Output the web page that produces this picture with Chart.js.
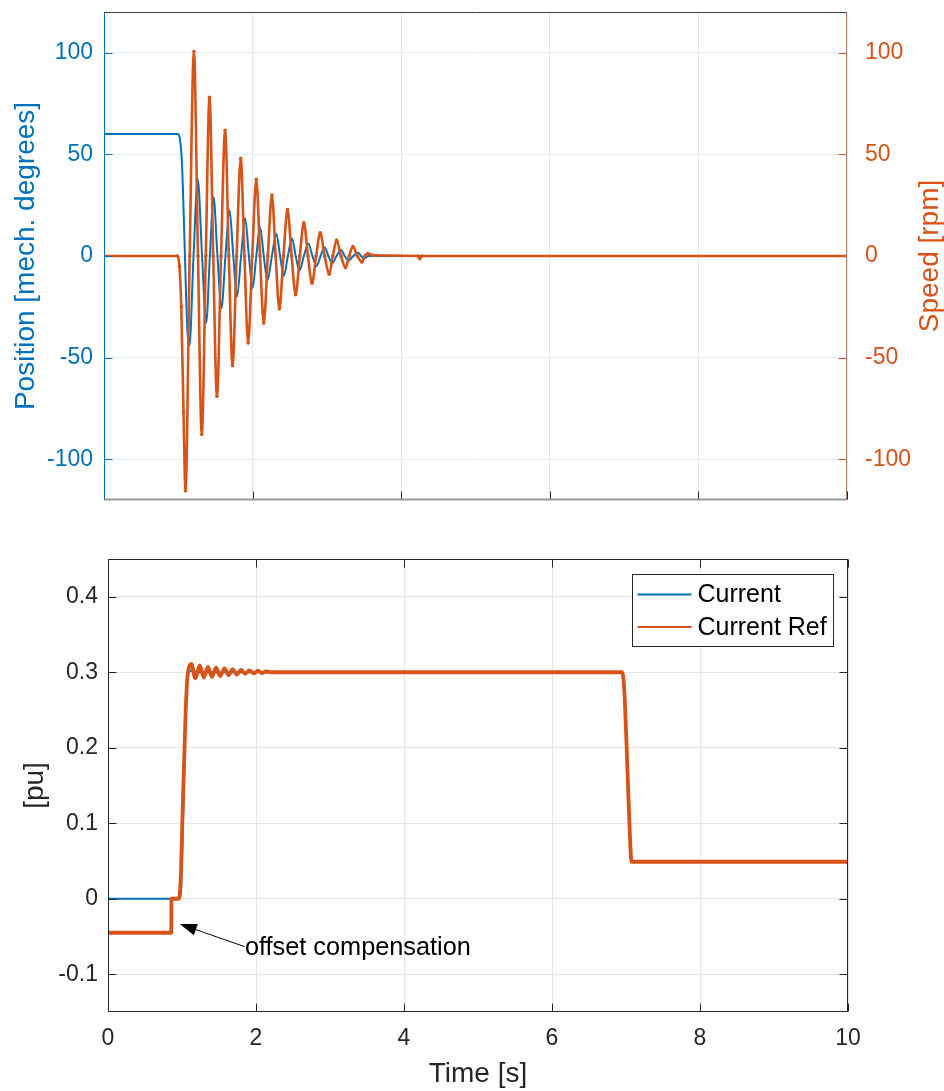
<!DOCTYPE html>
<html>
<head>
<meta charset="utf-8">
<script src="https://cdn.jsdelivr.net/npm/chart.js@4.4.1/dist/chart.umd.min.js"></script>
<style>
  body { margin: 0; background: #fff; }
  #wrap { position: relative; width: 944px; height: 1091px; }
  canvas { position: absolute; left: 0; }
</style>
</head>
<body>
<div id="wrap">
  <canvas id="motion-chart" width="944" height="530" style="top:0px"></canvas>
  <canvas id="current-chart" width="944" height="561" style="top:530px"></canvas>
</div>
<script>
// ---- data ----
var xTicks = [0, 2, 4, 6, 8, 10];
var degTicks = [-100, -50, 0, 50, 100];
var rpmTicks = [-100, -50, 0, 50, 100];
var puTicks = [-0.1, 0, 0.1, 0.2, 0.3, 0.4];

// position [mech. degrees] (left axis)
var posTime = [0, 0.99, 1.02, 1.05, 1.083, 1.12, 1.15,
    1.205, 1.262, 1.32, 1.375, 1.425, 1.474, 1.527, 1.58, 1.635, 1.69, 1.74,
    1.79, 1.845, 1.90, 1.95, 2.00, 2.05, 2.10, 2.15, 2.20, 2.26, 2.32,
    2.37, 2.42, 2.475, 2.53, 2.58, 2.63, 2.69, 2.75, 2.805, 2.86, 2.915,
    2.97, 3.02, 3.07, 3.13, 3.19, 3.24, 3.29, 3.355, 3.42, 3.46, 3.5,
    3.56, 10];
var posDeg = [60, 60, 58, 45, 8, -35, -44,
    0, 37.7, 0, -33, 0, 29, 0, -25.7, 0, 22.5, 0,
    -20, 0, 18.6, 0, -15.7, 0, 14.2, 0, -12, 0, 11,
    0, -9.8, 0, 8.7, 0, -7.2, 0, 6.2, 0, -4.9, 0,
    4.3, 0, -3.6, 0, 2.9, 0, -2.3, 0, 1.6, 0, -1.1,
    0, 0];

// speed [rpm] (right axis)
var speedTime = [0, 0.99, 1.015, 1.04, 1.07, 1.097,
    1.153, 1.21, 1.265, 1.316, 1.37, 1.42, 1.47, 1.52, 1.575, 1.63, 1.68,
    1.73, 1.785, 1.84, 1.89, 1.94, 1.995, 2.05, 2.10, 2.15, 2.205, 2.26,
    2.31, 2.36, 2.415, 2.47, 2.525, 2.58, 2.635, 2.69, 2.745, 2.80, 2.855,
    2.91, 2.97, 3.03, 3.08, 3.13, 3.19, 3.25, 3.30, 3.35, 3.41, 3.47,
    3.51, 3.55, 3.62, 4.22, 4.25, 4.28, 10];
var speedRpm = [0, 0, -5, -25, -77, -115.5,
    0, 100.6, 0, -87.8, 0, 78, 0, -69, 0, 61.8, 0,
    -54, 0, 48, 0, -42.8, 0, 37.7, 0, -33, 0, 30,
    0, -26, 0, 22.8, 0, -19, 0, 16.3, 0, -13.4, 0,
    11.4, 0, -9, 0, 7.8, 0, -5.7, 0, 4.6, 0, -3,
    0, 1.2, 0.3, 0, -1.3, 0, 0];

// current [pu]
var curTime = [0, 0.965, 0.99, 1.02, 1.045, 1.07, 1.095, 1.12, 1.2, 6.95, 6.98, 7.02, 7.05, 7.075, 10];
var curPu = [0, 0, 0.02, 0.13, 0.24, 0.29, 0.30, 0.302, 0.3, 0.3, 0.27, 0.17, 0.09, 0.049, 0.049];

// current reference [pu]
var refTime = [0, 0.855, 0.858, 0.955, 0.98, 1.01, 1.046, 1.07, 1.09, 1.127,
    1.18, 1.24, 1.295, 1.35, 1.405, 1.46, 1.515, 1.575, 1.63, 1.685,
    1.74, 1.80, 1.855, 1.91, 1.97, 2.025, 2.08, 2.135, 2.2,
    6.95, 6.98, 7.02, 7.05, 7.075, 10];
var refPu = [-0.045, -0.045, 0, 0, 0.02, 0.12, 0.238, 0.29, 0.305, 0.311,
    0.292, 0.309, 0.293, 0.307, 0.294, 0.306, 0.295, 0.305, 0.296, 0.304,
    0.297, 0.303, 0.298, 0.3025, 0.2985, 0.302, 0.299, 0.301, 0.3,
    0.3, 0.27, 0.17, 0.09, 0.049, 0.049];

// annotation (data units of the lower plot)
var noteText = 'offset compensation';
var noteTextAt = [1.85, -0.0744];
var noteArrowFrom = [1.845, -0.0634];
var noteArrowTo = [0.97, -0.0335];

var BLUE = '#0072BD';
var ORANGE = '#D95319';
var FONT = "'Liberation Sans', Arial, Helvetica, sans-serif";

Chart.defaults.font.family = FONT;

function toPoints(xs, ys) {
    var pts = [];
    for (var i = 0; i < xs.length; i++) {
        pts.push({x: xs[i], y: ys[i]});
    }
    return pts;
}

function fixedTicks(list) {
    return function(scale) {
        scale.ticks = list.map(function(v) { return {value: v}; });
    };
}

// box around the plot + short ticks pointing inwards (matlab style)
var framePlugin = {
    id: 'frame',
    afterDatasetsDraw: function(chart, args, opts) {
        var ctx = chart.ctx, a = chart.chartArea;
        var xs = chart.scales.x, yl = chart.scales.y, yr = chart.scales.y2 || chart.scales.y;
        var len = 8;
        var L = Math.round(a.left) + 0.5, R = Math.round(a.right) - 0.5;
        var T = Math.round(a.top) + 0.5, B = Math.round(a.bottom) - 0.5;
        function line(x1, y1, x2, y2, color, w) {
            ctx.strokeStyle = color;
            ctx.lineWidth = w;
            ctx.beginPath();
            ctx.moveTo(x1, y1);
            ctx.lineTo(x2, y2);
            ctx.stroke();
        }
        ctx.save();
        xs.ticks.forEach(function(t) {
            var px = Math.round(xs.getPixelForValue(t.value)) + 0.5;
            line(px, B, px, B - len, opts.tickBottom, 1);
            if (opts.topTicks) line(px, T, px, T + len, opts.tickBottom, 1);
        });
        yl.ticks.forEach(function(t) {
            var py = Math.round(yl.getPixelForValue(t.value)) + 0.5;
            line(L, py, L + len, py, opts.tickLeft, 1);
        });
        yr.ticks.forEach(function(t) {
            var py = Math.round(yr.getPixelForValue(t.value)) + 0.5;
            line(R, py, R - len, py, opts.tickRight, 1);
        });
        line(L - 0.5, T, R + 0.5, T, opts.top, 1);
        line(L - 0.5, B, R + 0.5, B, opts.bottom, opts.bottomWidth || 1);
        line(L, T, L, B, opts.left, 1);
        line(R, T, R, B, opts.right, 1);
        ctx.restore();
    }
};

// right label of the upper plot reads bottom-to-top like the left one
var rightTitlePlugin = {
    id: 'rightTitle',
    afterDraw: function(chart) {
        var ctx = chart.ctx, a = chart.chartArea, s = chart.scales.y2;
        ctx.save();
        ctx.translate(s.right - 14, (a.top + a.bottom) / 2);
        ctx.rotate(-Math.PI / 2);
        ctx.fillStyle = ORANGE;
        ctx.font = '28px ' + FONT;
        ctx.textAlign = 'center';
        ctx.textBaseline = 'middle';
        ctx.fillText('Speed [rpm]', 0, 0);
        ctx.restore();
    }
};

var legendPlugin = {
    id: 'boxLegend',
    afterDraw: function(chart) {
        var ctx = chart.ctx, a = chart.chartArea;
        var w = 201, h = 72;
        var x = Math.round(a.right - 15 - w) + 0.5, y = Math.round(a.top + 15) + 0.5;
        ctx.save();
        ctx.fillStyle = '#fff';
        ctx.fillRect(x, y, w, h);
        ctx.strokeStyle = '#262626';
        ctx.lineWidth = 1;
        ctx.strokeRect(x, y, w, h);
        ctx.font = '25px ' + FONT;
        ctx.textBaseline = 'middle';
        chart.data.datasets.forEach(function(ds, i) {
            var ry = y + 20 + i * 32.5;
            ctx.strokeStyle = ds.borderColor;
            ctx.lineWidth = 2;
            ctx.beginPath();
            ctx.moveTo(x + 5, ry);
            ctx.lineTo(x + 59, ry);
            ctx.stroke();
            ctx.fillStyle = '#000';
            ctx.fillText(ds.label, x + 65, ry + 1);
        });
        ctx.restore();
    }
};

var notePlugin = {
    id: 'note',
    afterDraw: function(chart) {
        var ctx = chart.ctx, xs = chart.scales.x, ys = chart.scales.y;
        var x1 = xs.getPixelForValue(noteArrowFrom[0]), y1 = ys.getPixelForValue(noteArrowFrom[1]);
        var x2 = xs.getPixelForValue(noteArrowTo[0]), y2 = ys.getPixelForValue(noteArrowTo[1]);
        var ang = Math.atan2(y2 - y1, x2 - x1);
        var hl = 17, hw = 6;
        ctx.save();
        ctx.strokeStyle = '#000';
        ctx.fillStyle = '#000';
        ctx.lineWidth = 1;
        ctx.beginPath();
        ctx.moveTo(x1, y1);
        ctx.lineTo(x2 - hl * Math.cos(ang), y2 - hl * Math.sin(ang));
        ctx.stroke();
        ctx.beginPath();
        ctx.moveTo(x2, y2);
        ctx.lineTo(x2 - hl * Math.cos(ang) + hw * Math.sin(ang), y2 - hl * Math.sin(ang) - hw * Math.cos(ang));
        ctx.lineTo(x2 - hl * Math.cos(ang) - hw * Math.sin(ang), y2 - hl * Math.sin(ang) + hw * Math.cos(ang));
        ctx.closePath();
        ctx.fill();
        ctx.font = '25.3px ' + FONT;
        ctx.textBaseline = 'alphabetic';
        ctx.fillText(noteText, xs.getPixelForValue(noteTextAt[0]), ys.getPixelForValue(noteTextAt[1]));
        ctx.restore();
    }
};

function chartMotion() {    // upper plot: position and speed on two y axes
    var ctx = document.getElementById('motion-chart');
    var chart = new Chart(ctx, {
        type: 'line',
        data: {
            datasets: [{
                label: 'Position',
                data: toPoints(posTime, posDeg),
                yAxisID: 'y',
                borderColor: BLUE,
                borderWidth: 2,
                pointRadius: 0,
                cubicInterpolationMode: 'monotone',
                order: 1
            }, {
                label: 'Speed',
                data: toPoints(speedTime, speedRpm),
                yAxisID: 'y2',
                borderColor: ORANGE,
                backgroundColor: ORANGE,
                borderWidth: 2.6,
                pointRadius: 1.8,
                pointBorderWidth: 0,
                cubicInterpolationMode: 'monotone',
                order: 0
            }]
        },
        options: {
            responsive: false,
            animation: false,
            layout: { padding: { top: 12, left: 0, right: 0, bottom: 0 } },
            plugins: {
                legend: { display: false },
                tooltip: { enabled: false },
                frame: { top: '#404040', bottom: '#999999', bottomWidth: 2, left: BLUE, right: '#a98274',
                         tickLeft: BLUE, tickRight: ORANGE, tickBottom: '#262626', topTicks: false }
            },
            scales: {
                x: {
                    type: 'linear', min: 0, max: 10,
                    afterBuildTicks: fixedTicks(xTicks),
                    ticks: { display: false },
                    grid: { color: '#e6e6e6', drawTicks: false },
                    border: { display: false },
                    afterFit: function(s) { s.height = 30; s.paddingLeft = 0; s.paddingRight = 0; }
                },
                y: {
                    position: 'left', min: -120, max: 120,
                    afterBuildTicks: fixedTicks(degTicks),
                    ticks: { color: BLUE, font: { size: 23 }, padding: 11, callback: function(v) { return String(v); } },
                    grid: { color: '#e2eef8', drawTicks: false },
                    border: { display: false },
                    title: { display: true, text: 'Position [mech. degrees]', color: BLUE,
                             font: { size: 28, lineHeight: 1 }, padding: { top: 12, bottom: 0 } },
                    afterFit: function(s) { s.width = 104; s.paddingTop = 0; s.paddingBottom = 0; }
                },
                y2: {
                    position: 'right', min: -120, max: 120,
                    afterBuildTicks: fixedTicks(rpmTicks),
                    ticks: { color: ORANGE, font: { size: 23 }, padding: 10, callback: function(v) { return String(v); } },
                    grid: { display: false },
                    border: { display: false },
                    afterFit: function(s) { s.width = 97; s.paddingTop = 0; s.paddingBottom = 0; }
                }
            }
        },
        plugins: [framePlugin, rightTitlePlugin]
    });
}

function chartCurrent() {    // lower plot: current and its reference
    var ctx = document.getElementById('current-chart');
    var chart = new Chart(ctx, {
        type: 'line',
        data: {
            datasets: [{
                label: 'Current',
                data: toPoints(curTime, curPu),
                borderColor: BLUE,
                borderWidth: 2,
                pointRadius: 0,
                cubicInterpolationMode: 'monotone',
                order: 1
            }, {
                label: 'Current Ref',
                data: toPoints(refTime, refPu),
                borderColor: ORANGE,
                borderWidth: 3.8,
                pointRadius: 0,
                cubicInterpolationMode: 'monotone',
                order: 0
            }]
        },
        options: {
            responsive: false,
            animation: false,
            layout: { padding: { top: 29, left: 0, right: 96, bottom: 0 } },
            plugins: {
                legend: { display: false },
                tooltip: { enabled: false },
                frame: { top: '#262626', bottom: '#262626', left: '#262626', right: '#262626',
                         tickLeft: '#262626', tickRight: '#262626', tickBottom: '#262626', topTicks: true }
            },
            scales: {
                x: {
                    type: 'linear', min: 0, max: 10,
                    afterBuildTicks: fixedTicks(xTicks),
                    ticks: { color: '#262626', font: { size: 23 }, padding: 13, maxRotation: 0,
                             callback: function(v) { return String(v); } },
                    grid: { color: '#e6e6e6', drawTicks: false },
                    border: { display: false },
                    title: { display: true, text: 'Time [s]', color: '#262626',
                             font: { size: 28, lineHeight: 1 }, padding: { top: 0, bottom: 3 } },
                    afterFit: function(s) { s.height = 79; s.paddingLeft = 0; s.paddingRight = 0; }
                },
                y: {
                    position: 'left', min: -0.15, max: 0.45,
                    afterBuildTicks: fixedTicks(puTicks),
                    ticks: { color: '#262626', font: { size: 23 }, padding: 10, callback: function(v) { return String(v); } },
                    grid: { color: '#e6e6e6', drawTicks: false },
                    border: { display: false },
                    title: { display: true, text: '[pu]', color: '#262626',
                             font: { size: 28, lineHeight: 1 }, padding: { top: 21, bottom: 0 } },
                    afterFit: function(s) { s.width = 108; s.paddingTop = 0; s.paddingBottom = 0; }
                }
            }
        },
        plugins: [framePlugin, legendPlugin, notePlugin]
    });
}

chartMotion();
chartCurrent();
</script>
</body>
</html>
